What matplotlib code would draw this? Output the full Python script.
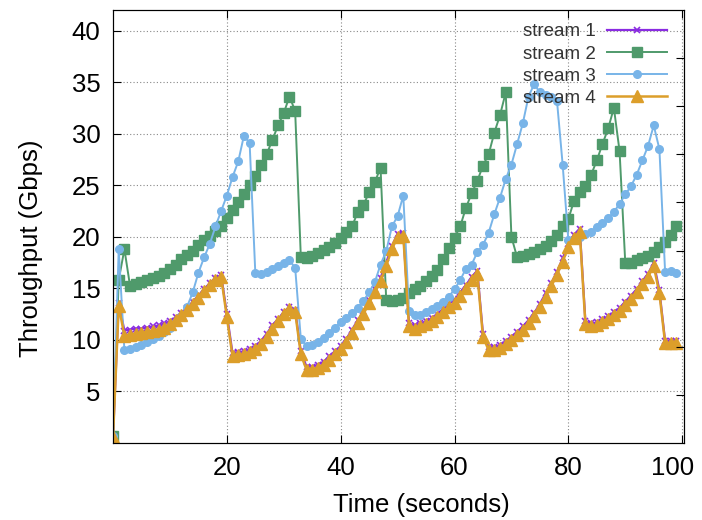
import numpy as np
from matplotlib import pyplot as plt
from matplotlib.transforms import ScaledTranslation

plt.rcParams['font.family'] = ['Liberation Sans', 'DejaVu Sans']

# time axis, one sample per second
time_s = np.arange(100)

stream1 = [0.6, 13.6, 10.9, 11.0, 11.1, 11.1, 11.2, 11.3, 11.4, 11.6,
           11.8, 12.2, 12.6, 13.1, 13.7, 14.3, 14.9, 15.5, 16.0, 16.3,
           12.5, 8.7, 8.8, 8.9, 9.1, 9.4, 9.9, 10.6, 11.4, 12.0,
           12.7, 13.2, 12.9, 8.9, 7.4, 7.4, 7.6, 7.9, 8.4, 8.9,
           9.4, 10.1, 11.0, 11.9, 12.8, 13.9, 14.9, 16.0, 17.5, 19.1,
           20.3, 20.4, 11.6, 11.4, 11.6, 11.8, 12.1, 12.5, 13.0, 13.5,
           13.9, 14.6, 15.3, 16.1, 16.7, 10.6, 9.3, 9.3, 9.5, 9.9,
           10.3, 10.8, 11.3, 11.9, 12.6, 13.5, 14.5, 15.5, 16.6, 17.9,
           19.3, 20.2, 20.8, 11.8, 11.6, 11.7, 12.0, 12.3, 12.7, 13.1,
           13.7, 14.3, 14.9, 15.7, 16.4, 17.5, 14.8, 9.9, 9.9, 9.9]

stream2 = [0.7, 15.8, 18.8, 15.2, 15.4, 15.6, 15.8, 16.0, 16.2, 16.5,
           16.9, 17.3, 17.8, 18.2, 18.6, 19.2, 19.7, 20.1, 20.6, 21.0,
           21.8, 22.6, 23.4, 24.1, 25.0, 25.9, 27.0, 28.0, 29.4, 30.8,
           32.0, 33.6, 32.2, 18.0, 17.9, 18.1, 18.4, 18.7, 19.0, 19.4,
           19.9, 20.5, 21.0, 22.4, 23.1, 24.3, 25.3, 26.7, 13.9, 13.8,
           13.9, 14.1, 14.5, 14.9, 15.2, 15.7, 16.2, 16.8, 17.8, 18.9,
           19.9, 21.0, 22.8, 24.2, 25.4, 26.9, 28.0, 30.1, 31.8, 34.0,
           20.0, 18.0, 18.1, 18.3, 18.5, 18.8, 19.1, 19.6, 20.2, 21.0,
           21.7, 23.5, 24.3, 24.9, 26.0, 27.4, 29.0, 30.5, 32.5, 28.3,
           17.5, 17.5, 17.7, 17.9, 18.1, 18.5, 19.0, 19.5, 20.2, 21.0]

stream3 = [0.7, 18.8, 9.0, 9.1, 9.3, 9.5, 9.8, 10.1, 10.4, 10.8,
           11.2, 11.7, 12.3, 13.2, 14.6, 16.5, 18.0, 19.3, 21.0, 22.5,
           24.0, 25.8, 27.3, 29.8, 29.1, 16.5, 16.4, 16.6, 16.9, 17.2,
           17.5, 17.7, 17.0, 10.1, 9.4, 9.5, 9.8, 10.2, 10.7, 11.2,
           11.7, 12.1, 12.6, 13.1, 13.8, 14.6, 15.6, 17.3, 18.6, 21.0,
           22.0, 24.0, 12.8, 12.4, 12.4, 12.7, 13.0, 13.3, 13.7, 14.2,
           14.9, 15.8, 16.9, 17.3, 18.5, 19.2, 20.4, 22.2, 23.8, 25.6,
           27.0, 29.0, 31.0, 33.6, 34.8, 34.0, 33.7, 33.6, 33.2, 27.0,
           19.7, 19.7, 20.0, 20.3, 20.5, 20.9, 21.3, 21.8, 22.4, 23.2,
           24.1, 24.9, 26.0, 27.4, 28.8, 30.8, 28.5, 16.6, 16.7, 16.5]

stream4 = [0.6, 13.3, 10.4, 10.5, 10.6, 10.7, 10.8, 10.9, 11.0, 11.2,
           11.5, 11.9, 12.4, 12.9, 13.5, 14.1, 14.7, 15.3, 15.8, 16.1,
           12.2, 8.4, 8.5, 8.6, 8.8, 9.1, 9.6, 10.3, 11.1, 11.8,
           12.5, 13.0, 12.7, 8.6, 7.1, 7.1, 7.3, 7.6, 8.1, 8.6,
           9.1, 9.8, 10.7, 11.6, 12.5, 13.6, 14.6, 15.7, 17.2, 18.8,
           20.0, 20.1, 11.3, 11.1, 11.3, 11.5, 11.8, 12.2, 12.7, 13.2,
           13.6, 14.3, 15.0, 15.8, 16.4, 10.3, 9.0, 9.0, 9.2, 9.6,
           10.0, 10.5, 11.0, 11.6, 12.3, 13.2, 14.2, 15.2, 16.3, 17.6,
           19.0, 19.9, 20.5, 11.5, 11.3, 11.4, 11.7, 12.0, 12.4, 12.8,
           13.4, 14.0, 14.6, 15.4, 16.1, 17.2, 14.5, 9.7, 9.7, 9.7]

x_ticks = [20, 40, 60, 80, 100]
y_ticks = [5, 10, 15, 20, 25, 30, 35, 40]

fig = plt.figure(figsize=(7.02, 5.2), dpi=100)
ax = fig.add_axes([0.161, 0.148, 0.814, 0.833])

ax.plot(time_s, stream1, '-x', color='#8a2be2', lw=1.6, ms=4, mew=1.2, label='stream 1')
ax.plot(time_s, stream2, '-s', color='#4f9a6b', lw=1.4, ms=7.5, label='stream 2')
ax.plot(time_s, stream3, '-o', color='#78b4e8', lw=1.4, ms=5.5, label='stream 3')
ax.plot(time_s, stream4, '-^', color='#dc9e2a', lw=1.8, ms=8, label='stream 4')

ax.set_xlim(0, 100.4)
ax.set_ylim(0, 42)
ax.set_xticks(x_ticks)
ax.set_yticks(y_ticks)
ax.grid(True, color='#888888', linestyle=(0, (1, 2)), linewidth=0.8)
ax.tick_params(direction='in', length=6, labelsize=18.5, top=True, pad=9)
for sp in ax.spines.values():
    sp.set_color('#222222')

# last x label sits a bit left so it stays inside the figure
last = ax.xaxis.get_major_ticks()[-1].label1
last.set_transform(last.get_transform() + ScaledTranslation(-10 / 100, 0, fig.dpi_scale_trans))

# mirrored right-hand ticks (y2 range 0-45)
ax2 = ax.twinx()
ax2.set_ylim(0, 45)
ax2.set_yticks(y_ticks)
ax2.tick_params(direction='in', length=6, labelright=False)

ax.set_xlabel('Time (seconds)', fontsize=18.5)
ax.set_ylabel('Throughput (Gbps)', fontsize=18.5)
ax.xaxis.set_label_coords(0.54, -0.115)
ax.yaxis.set_label_coords(-0.122, 0.45)

leg = ax.legend(loc='upper right', frameon=False, markerfirst=False, fontsize=13.5,
                handlelength=3.2, labelspacing=0.27, borderaxespad=0.2,
                handletextpad=0.6, bbox_to_anchor=(0.99, 0.995))
for t in leg.get_texts():
    t.set_color('#333333')

fig.savefig('out.png', dpi=100)
